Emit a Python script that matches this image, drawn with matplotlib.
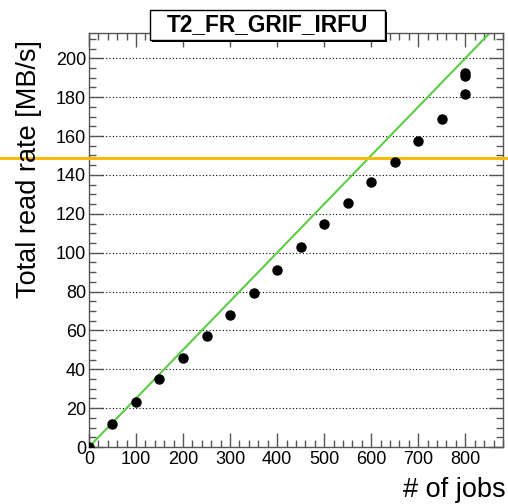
import numpy as np
import matplotlib.pyplot as plt
from matplotlib.patches import Rectangle
from matplotlib.transforms import blended_transform_factory
from matplotlib.ticker import MultipleLocator

plt.rcParams['font.family'] = ['Liberation Sans', 'DejaVu Sans']

# measured points
jobs = [0, 50, 100, 150, 200, 250, 300, 350, 400, 450, 500, 550, 600,
        650, 700, 750, 800, 800, 800]
rate = [0, 11.7, 23.1, 35.0, 45.8, 57.1, 67.9, 79.2, 91.0, 102.9, 114.7,
        125.5, 136.3, 146.6, 157.7, 168.9, 181.8, 190.9, 192.4]

# ideal scaling and limit
slope = 0.25
limit = 148.7
site = "T2_FR_GRIF_IRFU"

W, H = 508, 504
fig = plt.figure(figsize=(W / 100, H / 100), dpi=100)
ax = fig.add_axes([0.175, 0.113, 0.815, 0.8215])

ax.set_xlim(0, 880)
ax.set_ylim(0, 213)

for y in range(20, 213, 20):
    ax.axhline(y, color='black', lw=0.8, ls=(0, (1, 2)), zorder=1)

xx = np.array([0, 880])
ax.plot(xx, slope * xx, color='#5ccc45', lw=1.5, zorder=2)

tr = blended_transform_factory(fig.transFigure, ax.transData)
ax.plot([0, 1], [limit, limit], color='#ffbb00', lw=2.2, transform=tr,
        clip_on=False, zorder=3)

ax.plot(jobs, rate, 'o', color='black', ms=6.5, zorder=4)

ax.xaxis.set_major_locator(MultipleLocator(100))
ax.xaxis.set_minor_locator(MultipleLocator(20))
ax.yaxis.set_major_locator(MultipleLocator(20))
ax.yaxis.set_minor_locator(MultipleLocator(5))
ax.tick_params(which='both', direction='in', top=True, right=True,
               color='#555555', labelsize=13)
ax.tick_params(which='major', length=10, width=1.0)
ax.tick_params(which='minor', length=5, width=1.0)
ax.tick_params(axis='x', pad=3)
ax.tick_params(axis='y', pad=2)
for s in ax.spines.values():
    s.set_color('#555555')
    s.set_linewidth(1.0)

fig.text(0.058, 0.92, "Total read rate [MB/s]", rotation=90, ha='center',
         va='top', fontsize=19.5)
fig.text(0.995, 0.028, "# of jobs", ha='right', va='center', fontsize=19.5)

# title box with small shadow
bx0, bx1, by0, by1 = 150 / W, 385 / W, 1 - 40 / H, 1 - 10 / H
fig.patches.append(Rectangle((bx0 + 2 / W, by0 - 2 / H), bx1 - bx0, by1 - by0,
                             transform=fig.transFigure, fc='black', ec='none',
                             zorder=5))
fig.patches.append(Rectangle((bx0, by0), bx1 - bx0, by1 - by0,
                             transform=fig.transFigure, fc='white', ec='black',
                             lw=1.0, zorder=6))
fig.text((bx0 + bx1) / 2, (by0 + by1) / 2, site, ha='center', va='center',
         fontsize=16.3, fontweight='bold', zorder=7)

fig.savefig("out.png", dpi=100)
